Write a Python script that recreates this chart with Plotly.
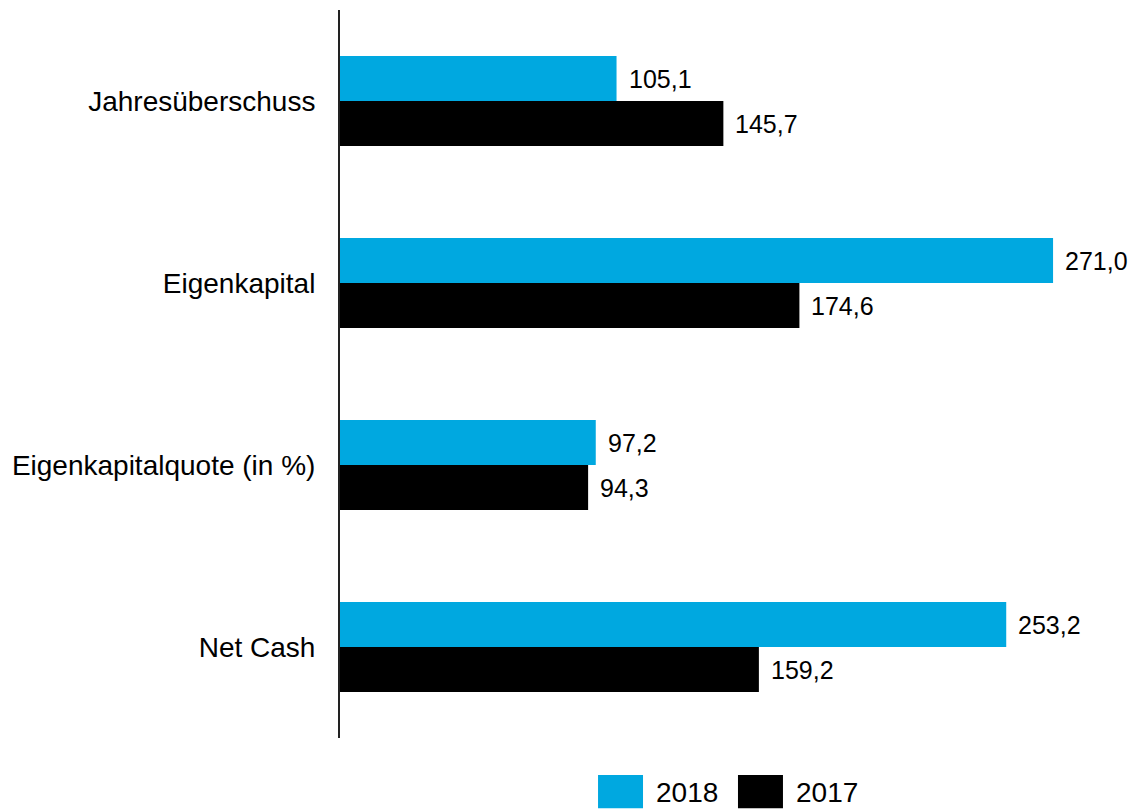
import plotly.graph_objects as go

categories = ["Jahresüberschuss", "Eigenkapital", "Eigenkapitalquote (in %)", "Net Cash"]
values_2018 = [105.1, 271.0, 97.2, 253.2]
values_2017 = [145.7, 174.6, 94.3, 159.2]
years = ["2018", "2017"]
colors = ["#00A8E0", "#000000"]

FONT = "Liberation Sans, Arial, sans-serif"


def fmt(v):
    return f"{v:.1f}".replace(".", ",")


fig = go.Figure()
for name, vals, col in zip(years, [values_2018, values_2017], colors):
    fig.add_trace(go.Bar(y=categories, x=vals, name=name, orientation="h",
                         marker=dict(color=col, line=dict(width=0)),
                         hoverinfo="skip"))

# value labels next to each bar
for vals, shift in [(values_2018, 22.5), (values_2017, -22.5)]:
    for cat, v in zip(categories, vals):
        fig.add_annotation(x=v, y=cat, text=fmt(v), showarrow=False,
                           xanchor="left", xshift=10, yshift=shift,
                           font=dict(size=25, color="#000000", family=FONT))

# legend drawn by hand (large swatches)
for (x0, x1, tx), name, col in zip([(0.3258, 0.3826, 0.3965), (0.5025, 0.5593, 0.5732)],
                                   years, colors):
    fig.add_shape(type="rect", xref="paper", yref="paper", x0=x0, x1=x1,
                  y0=-0.0965, y1=-0.0508, fillcolor=col, line=dict(width=0))
    fig.add_annotation(xref="paper", yref="paper", x=tx, y=-0.0745, text=name,
                       showarrow=False, xanchor="left", yanchor="middle",
                       font=dict(size=28, color="#000000", family=FONT))

fig.update_layout(
    width=1128, height=802,
    margin=dict(l=332, r=4, t=2, b=72),
    paper_bgcolor="white", plot_bgcolor="white",
    barmode="group", bargap=0.505, bargroupgap=0,
    showlegend=False,
    font=dict(family=FONT, size=28, color="#000000"),
    xaxis=dict(range=[0, 301], visible=False, showgrid=False, zeroline=False),
    yaxis=dict(autorange="reversed", showgrid=False, zeroline=False,
               showline=True, linecolor="#222222", linewidth=2,
               ticks="", ticklabelstandoff=17,
               tickfont=dict(size=28, family=FONT, color="#000000")),
)

fig.write_html("out.html")
